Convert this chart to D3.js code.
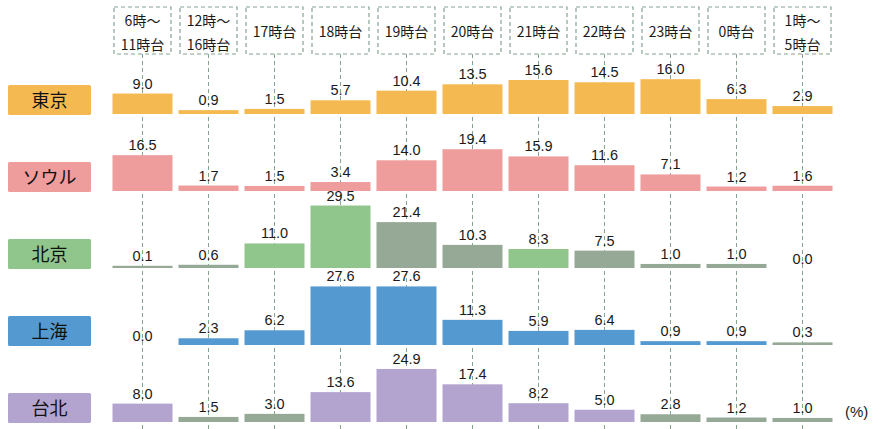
<!DOCTYPE html>
<html>
<head>
<meta charset="utf-8">
<script src="https://cdn.jsdelivr.net/npm/d3@7"></script>
<style>
    body { margin: 0; background: #fff; }
    svg { display: block; }
</style>
</head>
<body>
<div id="chart"></div>
<script>
let svgWidth = 885;
let svgHeight = 429;

// time slots (header boxes), one entry per line
let hours = [
    ["6時～", "11時台"], ["12時～", "16時台"], ["17時台"], ["18時台"], ["19時台"],
    ["20時台"], ["21時台"], ["22時台"], ["23時台"], ["0時台"], ["1時～", "5時台"]
];
let cities = ["東京", "ソウル", "北京", "上海", "台北"];

let tokyo = [9.0, 0.9, 1.5, 5.7, 10.4, 13.5, 15.6, 14.5, 16.0, 6.3, 2.9];
let seoul = [16.5, 1.7, 1.5, 3.4, 14.0, 19.4, 15.9, 11.6, 7.1, 1.2, 1.6];
let beijing = [0.1, 0.6, 11.0, 29.5, 21.4, 10.3, 8.3, 7.5, 1.0, 1.0, 0.0];
let shanghai = [0.0, 2.3, 6.2, 27.6, 27.6, 11.3, 5.9, 6.4, 0.9, 0.9, 0.3];
let taipei = [8.0, 1.5, 3.0, 13.6, 24.9, 17.4, 8.2, 5.0, 2.8, 1.2, 1.0];

let values = [tokyo, seoul, beijing, shanghai, taipei];

// colours
let cityColors = ["#f5b952", "#ee9c9c", "#90c58c", "#5499d0", "#b3a4cf"];
let mutedColor = "#96a996";
// cells printed in the muted grey-green: [city index, hour index]
let mutedCells = [[2, 0], [2, 1], [2, 4], [2, 5], [2, 7], [2, 8], [2, 9],
                  [3, 10], [4, 1], [4, 2], [4, 8], [4, 9], [4, 10]];
let gridColor = "#86a48f";

let svg = d3.select("#chart")
    .append("svg")
    .attr("width", svgWidth)
    .attr("height", svgHeight);

let x = d3.scaleBand()
    .domain(d3.range(hours.length))
    .range([109.5, 835.5])
    .paddingInner(6 / 66)
    .paddingOuter(3 / 66);

let row = d3.scalePoint()
    .domain(cities)
    .range([114, 422]);

let h = d3.scaleLinear()
    .domain([0, 30])
    .range([0, 61.5]);

let cx = i => x(i) + x.bandwidth() / 2;

//---------------------------------------------------------------------------------------------
// dashed guide lines
svg.append("g")
    .selectAll("line")
    .data(d3.range(hours.length))
    .enter()
    .append("line")
    .attr("x1", d => cx(d))
    .attr("x2", d => cx(d))
    .attr("y1", 54)
    .attr("y2", svgHeight)
    .attr("stroke", gridColor)
    .attr("stroke-width", 1)
    .attr("stroke-dasharray", "4,3");

// header boxes
let head = svg.append("g")
    .selectAll("g")
    .data(hours)
    .enter()
    .append("g")
    .attr("transform", (d, i) => `translate(${cx(i)}, 0)`);

head.append("rect")
    .attr("x", -28.5)
    .attr("y", 7)
    .attr("width", 57)
    .attr("height", 47)
    .attr("fill", "#fff")
    .attr("stroke", gridColor)
    .attr("stroke-width", 1.2)
    .attr("stroke-dasharray", "4,3");

head.each(function (d) {
    let g = d3.select(this);
    let ys = d.length === 1 ? [37] : [26, 50];
    d.forEach((t, k) => {
        g.append("text")
            .attr("x", 0)
            .attr("y", ys[k])
            .attr("text-anchor", "middle")
            .attr("font-family", "'Noto Sans CJK JP', sans-serif")
            .attr("font-size", 14)
            .attr("fill", "#1a1a1a")
            .text(t);
    });
});

//---------------------------------------------------------------------------------------------
// city labels
let labels = svg.append("g")
    .selectAll("g")
    .data(cities)
    .enter()
    .append("g")
    .attr("transform", d => `translate(0, ${row(d)})`);

labels.append("rect")
    .attr("x", 8)
    .attr("y", -29)
    .attr("width", 83)
    .attr("height", 30)
    .attr("rx", 1.5)
    .attr("fill", (d, i) => cityColors[i]);

labels.append("text")
    .attr("x", 49.5)
    .attr("y", -7.5)
    .attr("text-anchor", "middle")
    .attr("font-family", "'Noto Sans CJK JP', sans-serif")
    .attr("font-size", 18)
    .attr("font-weight", 400)
    .attr("fill", "#111")
    .text(d => d);

//---------------------------------------------------------------------------------------------
// bars and values
let isMuted = (c, i) => mutedCells.some(m => m[0] === c && m[1] === i);
let barH = v => v > 0 ? h(v) + 2 : 0;

cities.forEach((city, c) => {
    let base = row(city);
    let g = svg.append("g");

    g.selectAll("rect")
        .data(values[c])
        .enter()
        .append("rect")
        .attr("x", (d, i) => x(i))
        .attr("y", d => base - barH(d))
        .attr("width", x.bandwidth())
        .attr("height", d => barH(d))
        .attr("fill", (d, i) => isMuted(c, i) ? mutedColor : cityColors[c]);

    g.selectAll("text")
        .data(values[c])
        .enter()
        .append("text")
        .attr("x", (d, i) => cx(i))
        .attr("y", d => d > 0 ? base - barH(d) - 5 : base - 4)
        .attr("text-anchor", "middle")
        .attr("font-family", "'Liberation Sans', Arial, sans-serif")
        .attr("font-size", 14.5)
        .attr("fill", "#1a1a1a")
        .text(d => d.toFixed(1));
});

svg.append("text")
    .attr("x", 845)
    .attr("y", 417)
    .attr("font-family", "'Liberation Sans', Arial, sans-serif")
    .attr("font-size", 15)
    .attr("fill", "#222")
    .text("(%)");
</script>
</body>
</html>
